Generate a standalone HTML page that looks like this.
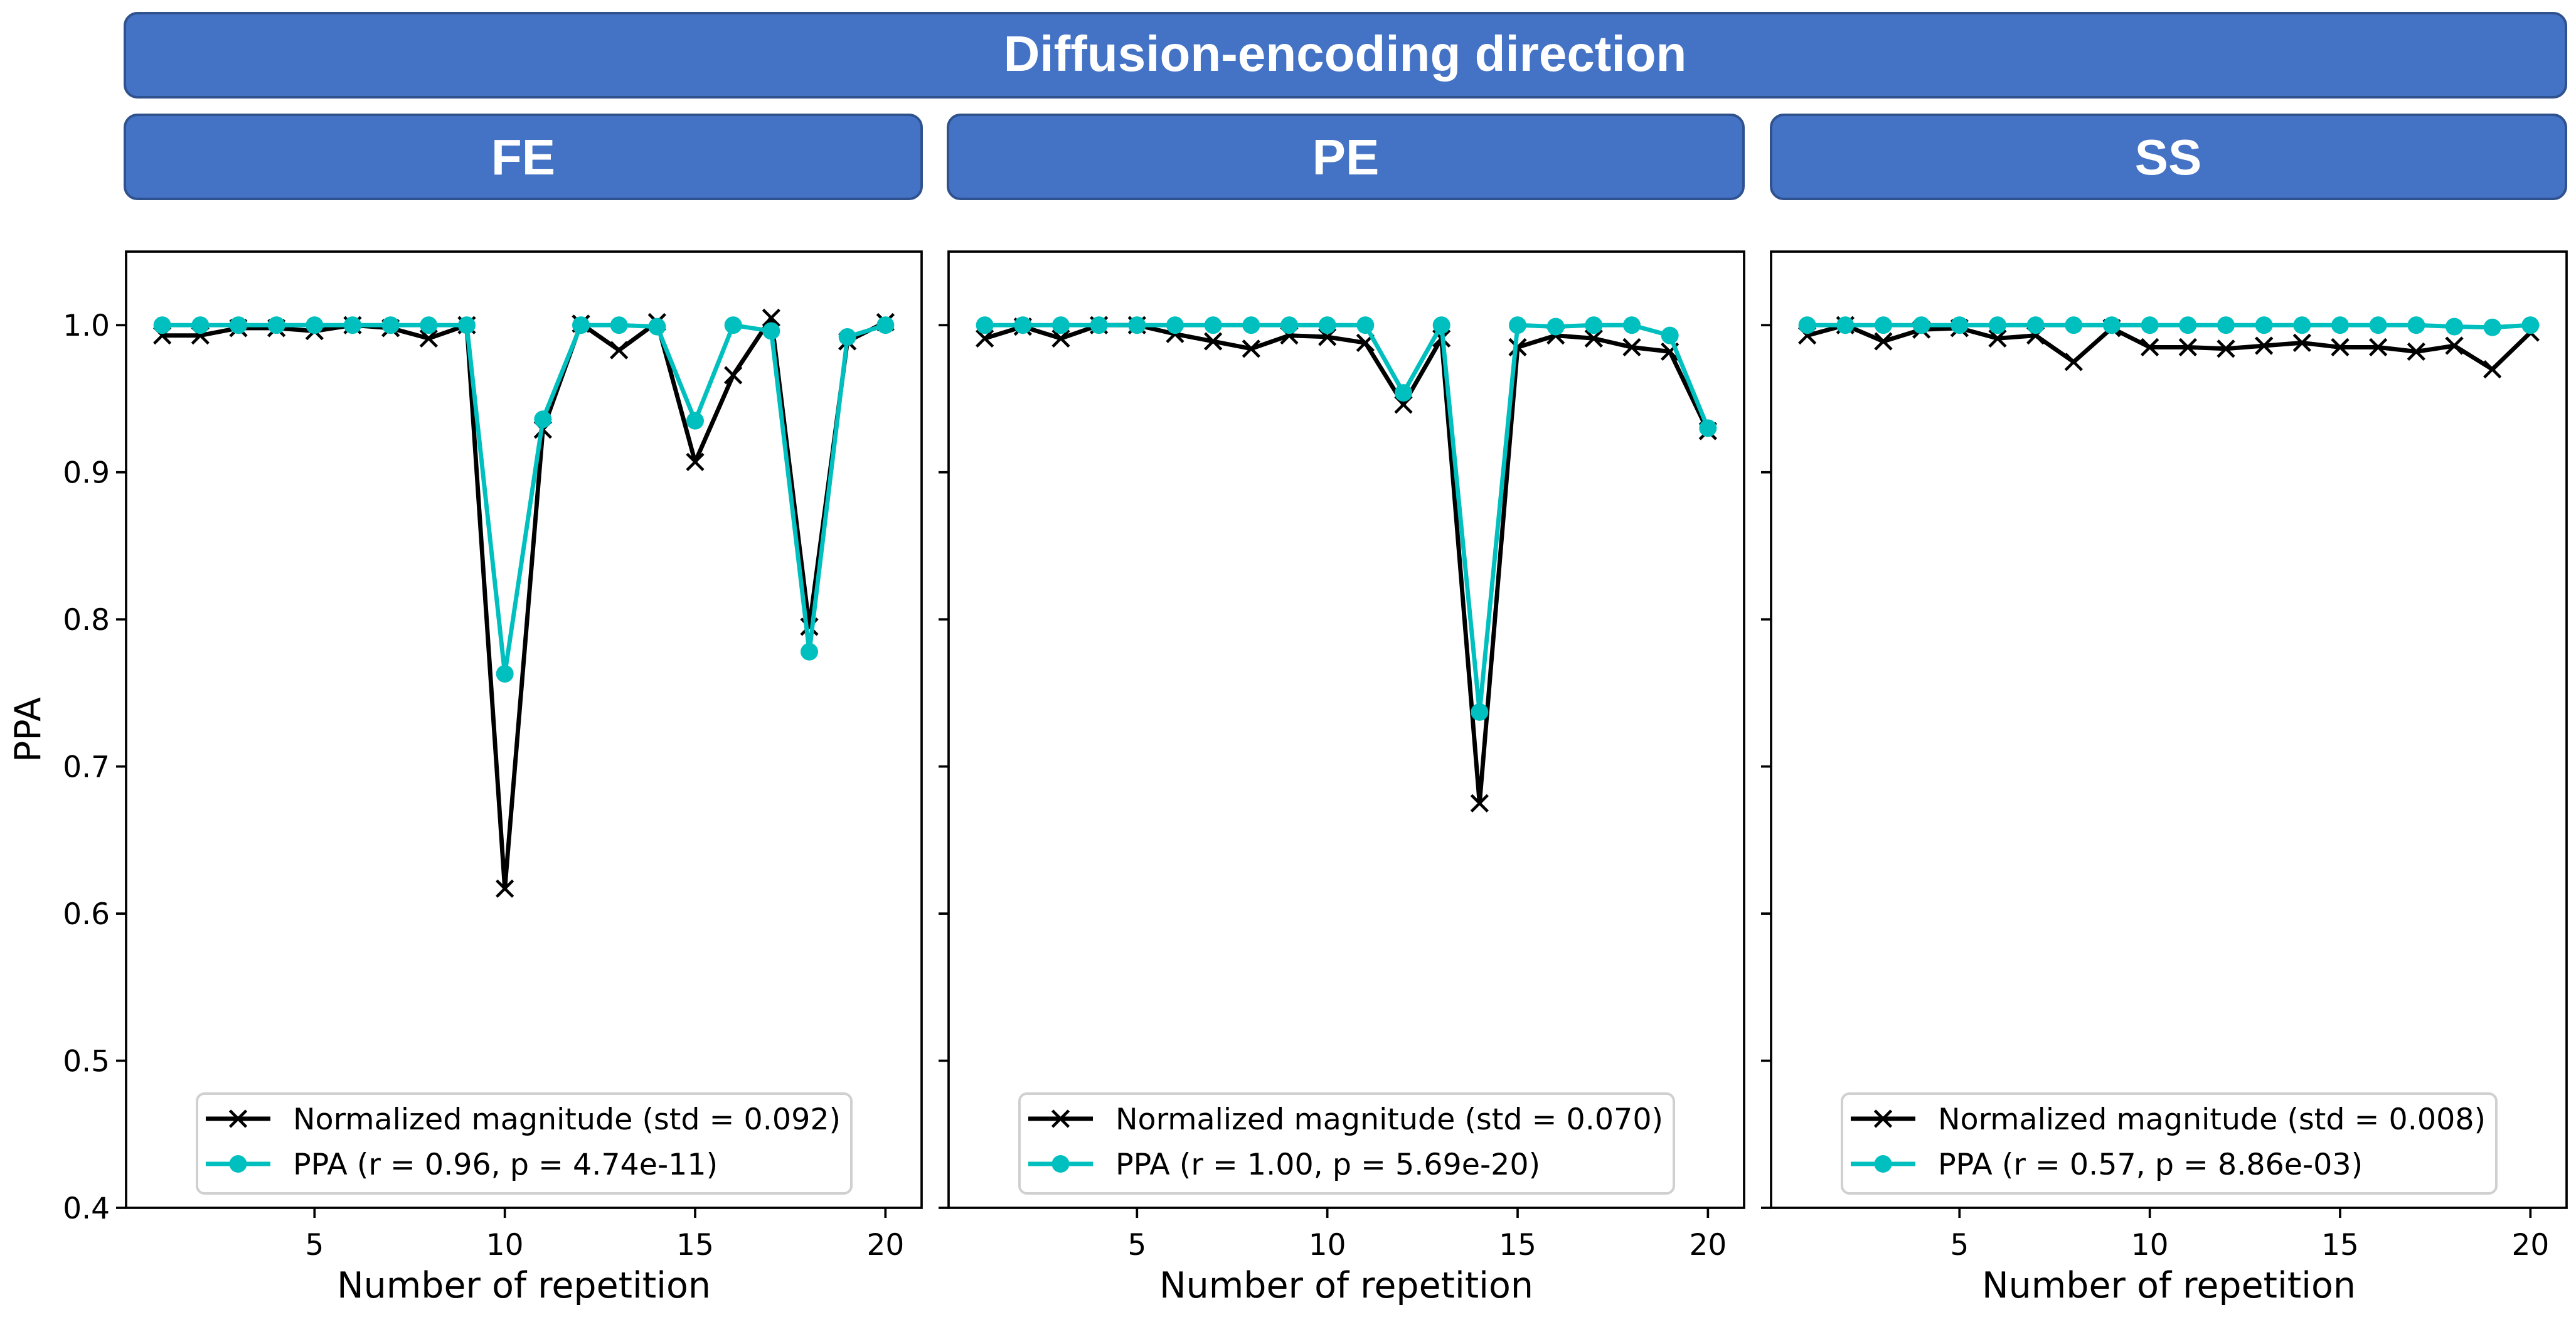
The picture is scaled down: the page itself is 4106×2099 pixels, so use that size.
<!DOCTYPE html>
<html><head><meta charset="utf-8">
<style>
html,body{margin:0;padding:0;background:#fff;}
svg{display:block;}
text{font-family:"DejaVu Sans","Liberation Sans",sans-serif;}
text.banner{font-family:"Liberation Sans","DejaVu Sans",sans-serif;}
</style></head>
<body>
<svg id="fig" width="4106" height="2099" viewBox="0 0 4106 2099" xmlns="http://www.w3.org/2000/svg">
  <g>
    <rect x="199" y="21" width="3891" height="134" rx="20" fill="#4472C4" stroke="#2F528F" stroke-width="4"/>
    <text class="banner" x="2144" y="113" font-size="80" font-weight="bold" fill="#fff" text-anchor="middle">Diffusion-encoding direction</text>
    <rect x="199" y="183" width="1270" height="134" rx="20" fill="#4472C4" stroke="#2F528F" stroke-width="4"/>
    <text class="banner" x="834" y="278" font-size="80" font-weight="bold" fill="#fff" text-anchor="middle">FE</text>
    <rect x="1511" y="183" width="1268" height="134" rx="20" fill="#4472C4" stroke="#2F528F" stroke-width="4"/>
    <text class="banner" x="2145" y="278" font-size="80" font-weight="bold" fill="#fff" text-anchor="middle">PE</text>
    <rect x="2823" y="183" width="1267" height="134" rx="20" fill="#4472C4" stroke="#2F528F" stroke-width="4"/>
    <text class="banner" x="3456" y="278" font-size="80" font-weight="bold" fill="#fff" text-anchor="middle">SS</text>
  </g>
  <text x="0" y="0" font-size="57" text-anchor="middle" transform="translate(64,1163) rotate(-90)">PPA</text>
  <g id="panels"></g>
</svg>
<script>
const repetitions = [1,2,3,4,5,6,7,8,9,10,11,12,13,14,15,16,17,18,19,20];
const feMagnitude = [0.993,0.993,0.998,0.998,0.996,1.0,0.998,0.991,1.0,0.617,0.929,1.001,0.983,1.002,0.907,0.966,1.005,0.795,0.989,1.002];
const fePPA = [1.0,1.0,1.0,1.0,1.0,1.0,1.0,1.0,1.0,0.763,0.936,1.0,1.0,0.999,0.935,1.0,0.996,0.778,0.992,1.0];
const peMagnitude = [0.991,0.999,0.991,1.0,1.0,0.994,0.989,0.984,0.993,0.992,0.988,0.946,0.991,0.675,0.985,0.993,0.991,0.985,0.982,0.928];
const pePPA = [1.0,1.0,1.0,1.0,1.0,1.0,1.0,1.0,1.0,1.0,1.0,0.954,1.0,0.737,1.0,0.999,1.0,1.0,0.993,0.93];
const ssMagnitude = [0.993,1.0,0.989,0.997,0.998,0.991,0.993,0.975,0.998,0.985,0.985,0.984,0.986,0.988,0.985,0.985,0.982,0.986,0.970,0.995];
const ssPPA = [1.0,1.0,1.0,1.0,1.0,1.0,1.0,1.0,1.0,1.0,1.0,1.0,1.0,1.0,1.0,1.0,1.0,0.999,0.9985,1.0];
const yTicks = [0.4,0.5,0.6,0.7,0.8,0.9,1.0];
const yTickLabels = ["0.4","0.5","0.6","0.7","0.8","0.9","1.0"];
const xTicks = [5,10,15,20];
const xTickLabels = ["5","10","15","20"];
const panelKeys = ["fe","pe","ss"];
const magLabels = ["Normalized magnitude (std = 0.092)","Normalized magnitude (std = 0.070)","Normalized magnitude (std = 0.008)"];
const ppaLabels = ["PPA (r = 0.96, p = 4.74e-11)","PPA (r = 1.00, p = 5.69e-20)","PPA (r = 0.57, p = 8.86e-03)"];

const NS="http://www.w3.org/2000/svg";
const CYAN="#00BFBF";
const root=document.getElementById('panels');
function mk(tag,attrs,parent){const e=document.createElementNS(NS,tag);for(const k in attrs)e.setAttribute(k,attrs[k]);parent.appendChild(e);return e;}
const lefts=[201,1512,2823], W=1268, TOP=401, BOT=1925;
const XMIN=0.05, XMAX=20.95, YMIN=0.4, YMAX=1.05;
const mags=[feMagnitude,peMagnitude,ssMagnitude], ppas=[fePPA,pePPA,ssPPA];

function cross(g,cx,cy,s,name){
  const p=mk('path',{d:`M${cx-s},${cy-s}L${cx+s},${cy+s}M${cx-s},${cy+s}L${cx+s},${cy-s}`,stroke:'#000','stroke-width':4.6,fill:'none'},g);
  
  
  return p;
}

panelKeys.forEach((key,pi)=>{
  const L=lefts[pi];
  const sx=v=>L+(v-XMIN)/(XMAX-XMIN)*W;
  const sy=v=>BOT-(v-YMIN)/(YMAX-YMIN)*(BOT-TOP);
  const g=mk('g',{},root);
  
  
  const frame=mk('rect',{x:L,y:TOP,width:W,height:BOT-TOP,fill:'#fff',stroke:'#000','stroke-width':3.7},g);
  
  
  yTicks.forEach((t,i)=>{
    const tk=mk('line',{x1:L-16,x2:L,y1:sy(t),y2:sy(t),stroke:'#000','stroke-width':3.7},g);
    
    
    if(pi===0){
      const tl=mk('text',{x:L-26,y:sy(t)+17,'font-size':47,'text-anchor':'end'},g);
      tl.textContent=yTickLabels[i];
      
      
    }
  });
  xTicks.forEach((t,i)=>{
    const tk=mk('line',{x1:sx(t),x2:sx(t),y1:BOT,y2:BOT+16,stroke:'#000','stroke-width':3.7},g);
    
    
    const tl=mk('text',{x:sx(t),y:BOT+75,'font-size':47,'text-anchor':'middle'},g);
    tl.textContent=xTickLabels[i];
    
    
  });
  const xl=mk('text',{x:L+W/2,y:2068,'font-size':57,'text-anchor':'middle'},g);
  xl.textContent='Number of repetition';
  
  

  const mag=mags[pi], ppa=ppas[pi];
  const ml=mk('polyline',{points:repetitions.map((r,i)=>sx(r)+','+sy(mag[i])).join(' '),fill:'none',stroke:'#000','stroke-width':6.9,'stroke-linejoin':'round'},g);
  
  
  repetitions.forEach((r,i)=>cross(g,sx(r),sy(mag[i]),13,key+'-magnitude-point'));
  const pl=mk('polyline',{points:repetitions.map((r,i)=>sx(r)+','+sy(ppa[i])).join(' '),fill:'none',stroke:CYAN,'stroke-width':6.9,'stroke-linejoin':'round'},g);
  
  
  repetitions.forEach((r,i)=>{
    const c=mk('circle',{cx:sx(r),cy:sy(ppa[i]),r:14,fill:CYAN},g);
    
    
  });

  const lg=mk('g',{},g);
  
  
  mk('rect',{x:L+113,y:1743,width:1043,height:159,rx:12,fill:'#fff','fill-opacity':0.85,stroke:'#d0d0d0','stroke-width':4},lg);
  const hx1=L+127, hx2=L+230, hm=(hx1+hx2)/2;
  const e1=mk('g',{},lg);
  
  
  mk('line',{x1:hx1,x2:hx2,y1:1783,y2:1783,stroke:'#000','stroke-width':6.9},e1);
  cross(e1,hm,1783,13,'legend-magnitude-marker');
  const t1=mk('text',{x:L+266,y:1800,'font-size':47.5},e1);
  t1.textContent=magLabels[pi];
  const e2=mk('g',{},lg);
  
  
  mk('line',{x1:hx1,x2:hx2,y1:1855,y2:1855,stroke:CYAN,'stroke-width':6.9},e2);
  mk('circle',{cx:hm,cy:1855,r:14,fill:CYAN},e2);
  const t2=mk('text',{x:L+266,y:1872,'font-size':47.5},e2);
  t2.textContent=ppaLabels[pi];
});
</script>
</body></html>
